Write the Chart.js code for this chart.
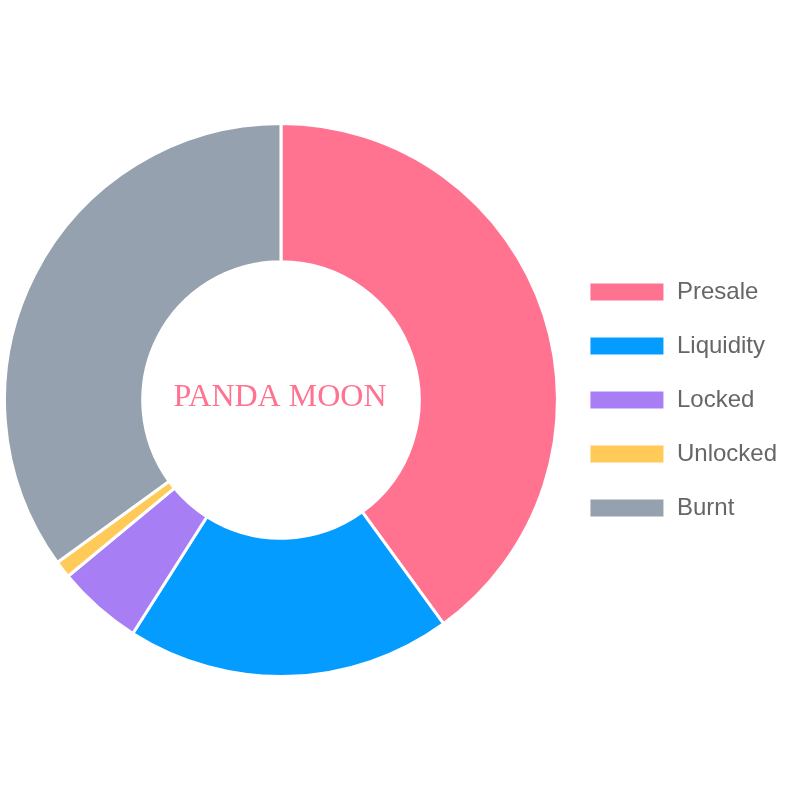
<!DOCTYPE html>
<html>
<head>
<meta charset="utf-8">
<script src="https://cdn.jsdelivr.net/npm/chart.js@4"></script>
<style>
  html, body { margin: 0; padding: 0; background: #fff; }
  #wrap { width: 800px; height: 800px; }
</style>
</head>
<body>
<div id="wrap"><canvas id="token-chart" width="800" height="800"></canvas></div>
<script>
const labels = ['Presale', 'Liquidity', 'Locked', 'Unlocked', 'Burnt'];
const values = [40, 19, 5, 1, 35];
const colors = ['#ff7290', '#059cff', '#a87ef5', '#ffca57', '#95a1ae'];
const centerText = 'PANDA MOON';

// writes the token name in the hole of the doughnut
const centerLabel = {
  id: 'centerLabel',
  afterDraw(chart) {
    const ctx = chart.ctx;
    const meta = chart.getDatasetMeta(0);
    if (!meta.data.length) return;
    const arc = meta.data[0];
    ctx.save();
    ctx.font = '32px "Liberation Serif", "Times New Roman", serif';
    ctx.fillStyle = '#ff7290';
    ctx.textAlign = 'center';
    ctx.textBaseline = 'middle';
    ctx.fillText(centerText, arc.x - 1, arc.y - 2);
    ctx.restore();
  }
};

const ctx = document.getElementById('token-chart').getContext('2d');
const myChart = new Chart(ctx, {
  type: 'doughnut',
  data: {
    labels: labels,
    datasets: [
      {
        data: values,
        backgroundColor: colors,
        borderColor: '#ffffff',
        borderWidth: 3,
        hoverOffset: 0
      }
    ]
  },
  options: {
    responsive: false,
    animation: false,
    cutout: '50%',
    layout: {
      padding: { left: 3, right: 13 }
    },
    plugins: {
      legend: {
        position: 'right',
        labels: {
          boxWidth: 76,
          boxHeight: 20,
          padding: 30,
          color: '#666',
          font: { family: '"Liberation Sans", Arial, sans-serif', size: 24 }
        }
      },
      tooltip: { enabled: false }
    }
  },
  plugins: [centerLabel]
});
</script>
</body>
</html>
